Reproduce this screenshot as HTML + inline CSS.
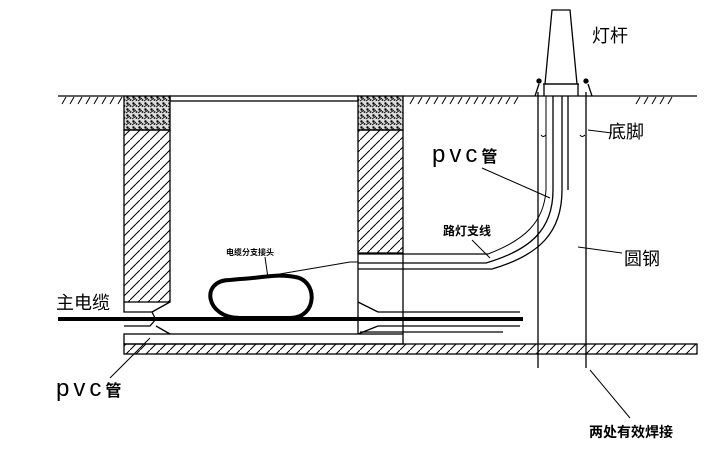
<!DOCTYPE html>
<html><head><meta charset="utf-8"><style>
html,body{margin:0;padding:0;background:#fff;width:725px;height:466px;overflow:hidden}
text{font-family:"Liberation Sans","Noto Sans CJK SC",sans-serif;fill:#000}
</style></head><body>
<svg width="725" height="466" viewBox="0 0 725 466" xmlns="http://www.w3.org/2000/svg">
<defs>
<pattern id="h" width="10" height="10" patternUnits="userSpaceOnUse">
<line x1="0" y1="10" x2="10" y2="0" stroke="#000" stroke-width="1"/></pattern>
<pattern id="n" width="6" height="6" patternUnits="userSpaceOnUse">
<rect width="6" height="6" fill="#ddd"/><circle cx="1.5" cy="1.5" r="1.2" fill="#000"/><circle cx="4.5" cy="4" r="1" fill="#222"/><line x1="0" y1="5" x2="4" y2="2" stroke="#000" stroke-width="0.8"/></pattern>
</defs>
<g stroke="#000" stroke-width="1.3" fill="none">
<line x1="58" y1="96" x2="124" y2="96"/>
<line x1="403" y1="96" x2="697" y2="96"/>
<g stroke-width="1">
<path d="M62,104l4,-7M70,104l4,-7M78,104l4,-7M86,104l4,-7M94,104l4,-7M102,104l4,-7M110,104l4,-7M118,104l4,-7"/>
<path d="M410,104l4,-7M418,104l4,-7M426,104l4,-7M434,104l4,-7M442,104l4,-7M450,104l4,-7M458,104l4,-7M466,104l4,-7M474,104l4,-7M482,104l4,-7M490,104l4,-7M498,104l4,-7M506,104l4,-7M514,104l4,-7"/>
<path d="M636,104l4,-7M644,104l4,-7M652,104l4,-7M660,104l4,-7M668,104l4,-7"/>
</g>
<rect x="170" y="96" width="188" height="5"/>
<rect x="124" y="96" width="46" height="34" fill="url(#n)"/>
<rect x="124" y="130" width="46" height="172" fill="url(#h)"/>
<rect x="358" y="96" width="45" height="34" fill="url(#n)"/>
<rect x="358" y="130" width="45" height="123" fill="url(#h)"/>
<line x1="358" y1="253" x2="358" y2="334"/>
<line x1="403" y1="253" x2="403" y2="334"/>
<path d="M124,302 V312 H152 L155,318 M124,326 H150 L156,319"/>
<path d="M152,312 L170,302 M156,326 L170,334"/>
<rect x="124" y="334" width="279" height="10"/>
<rect x="124" y="344" width="573" height="10" fill="url(#h)"/>
<path d="M358,302 L378,312 M358,334 L378,326"/>
<line x1="58" y1="319" x2="523" y2="319" stroke-width="4"/>
<line x1="378" y1="312" x2="520" y2="312"/>
<line x1="378" y1="326" x2="520" y2="326"/>
<line x1="360" y1="332" x2="503" y2="332"/>
<path d="M230,280 C200,280 205,318 240,318 L290,318 C318,318 318,280 295,277 C275,273 255,279 240,279 Z" stroke-width="4"/>
<line x1="265" y1="257" x2="268" y2="278" stroke-width="1"/>
<path d="M268,276 L350,262 H358" stroke-width="1"/>
<line x1="358" y1="254" x2="488" y2="254"/>
<path d="M358,263 H486 C530,250 553,230 553,190 V96"/>
<path d="M358,269 H492 C540,255 562,232 562,190 V96"/>
<path d="M488,254 C525,240 544,222 546,190 V96" stroke-width="1"/>
<line x1="568" y1="96" x2="568" y2="190"/>
<line x1="538" y1="92" x2="538" y2="368"/>
<line x1="586" y1="92" x2="586" y2="368"/>
<path d="M541,135 q2,3 5,0 M580,135 q2,3 5,0" stroke-width="1"/>
<path d="M545,84 L552,10 H570 L577,84 Z"/>
<line x1="543" y1="84" x2="579" y2="84"/>
<path d="M535,96 L539,84 M544,84 V96 M578,84 V96 M588,84 L592,96"/>
<circle cx="539" cy="81" r="2" fill="#000"/><circle cx="586" cy="81" r="2" fill="#000"/>
<g stroke-width="1">
<line x1="482" y1="168" x2="550" y2="198"/>
<line x1="472" y1="240" x2="490" y2="258"/>
<line x1="588" y1="130" x2="612" y2="133"/>
<line x1="578" y1="247" x2="622" y2="253"/>
<line x1="590" y1="370" x2="630" y2="418"/>
<line x1="150" y1="338" x2="110" y2="378"/>
</g>
</g>
<text x="592" y="42" font-size="18">灯杆</text>
<text x="608" y="138" font-size="18">底脚</text>
<text x="432" y="162" font-size="24" font-weight="300" letter-spacing="4" transform="translate(432 0) scale(1 1) translate(-432 0)">pvc<tspan font-size="16" font-weight="bold" letter-spacing="0">管</tspan></text>
<text x="443" y="235" font-size="12" font-weight="bold">路灯支线</text>
<text x="624" y="265" font-size="18">圆钢</text>
<text x="589" y="437" font-size="14" font-weight="bold">两处有效焊接</text>
<text x="56" y="309" font-size="18">主电缆</text>
<text x="56" y="396" font-size="24" font-weight="300" letter-spacing="4">pvc<tspan font-size="16" font-weight="bold" letter-spacing="0">管</tspan></text>
<text x="226" y="255" font-size="8" font-weight="bold">电缆分支接头</text>
</svg>
</body></html>
